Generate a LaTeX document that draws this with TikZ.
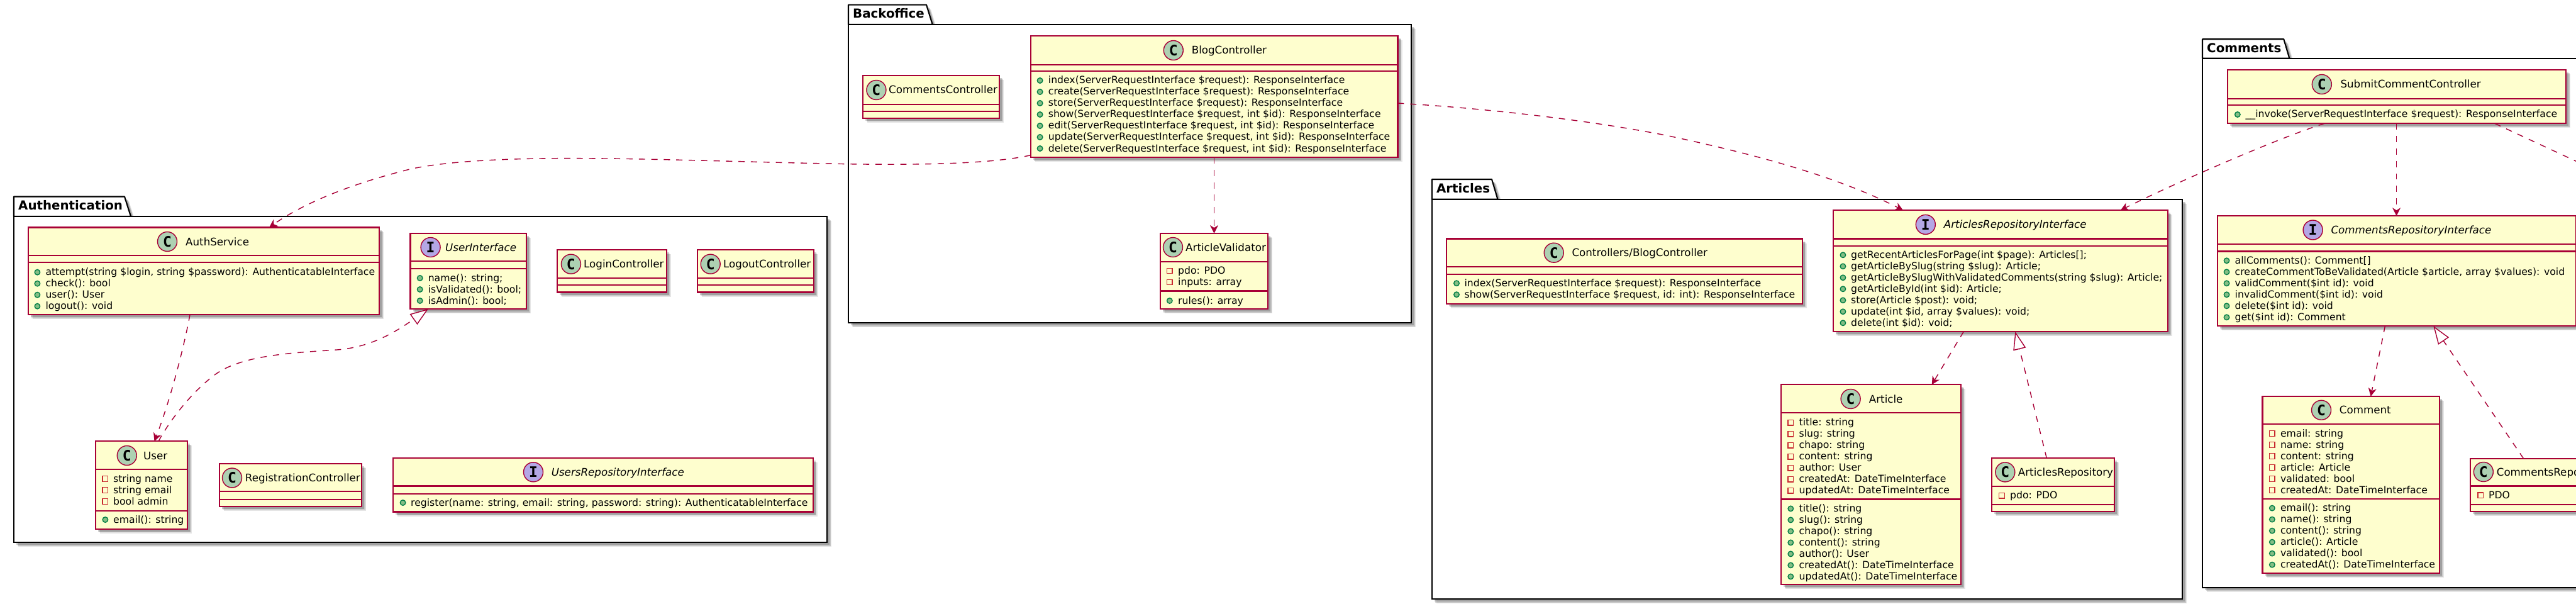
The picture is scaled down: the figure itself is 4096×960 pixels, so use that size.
\documentclass[tikz,border=0pt]{standalone}
\usepackage{fontspec}
\setmainfont{DejaVu Sans}
\newfontfamily\badgefont{DejaVu Sans Mono}
\usetikzlibrary{positioning,arrows.meta,shadows,calc}

\definecolor{umlred}{HTML}{A80036}
\definecolor{umlfill}{HTML}{FEFECE}
\definecolor{umlclass}{HTML}{ADD1B2}
\definecolor{umliface}{HTML}{B4A7E5}
\definecolor{pubfill}{HTML}{84BE84}
\definecolor{publine}{HTML}{038048}
\definecolor{privline}{HTML}{C82930}

\tikzset{
    umlshadow/.style={
        drop shadow={shadow xshift=7pt,shadow yshift=-7pt,opacity=.10,fill=black},
        drop shadow={shadow xshift=5.5pt,shadow yshift=-5.5pt,opacity=.14,fill=black},
        drop shadow={shadow xshift=4pt,shadow yshift=-4pt,opacity=.18,fill=black}},
    classbox/.style={rectangle,draw=umlred,fill=umlfill,line width=2.1pt,inner sep=0pt,outer sep=0pt,anchor=north west,umlshadow},
    classrule/.style={draw=umlred,line width=2.1pt},
    pkgbody/.style={rectangle,draw=black,fill=white,line width=2.1pt,inner sep=0pt,outer sep=0pt,anchor=north west,umlshadow},
    pkgtab/.style={draw=black,fill=white,line width=2.1pt,line join=round,umlshadow},
    pkglabel/.style={font=\fontsize{19.8}{24}\selectfont\bfseries,anchor=base west,inner sep=0pt},
    badge/.style={circle,draw=umlred,line width=1.41pt,minimum size=31pt,inner sep=0pt,
        font=\fontsize{23}{23}\selectfont\badgefont\bfseries},
    badgeC/.style={badge,fill=umlclass},
    badgeI/.style={badge,fill=umliface},
    titleC/.style={font=\fontsize{16.7}{20}\selectfont,anchor=base west,inner sep=0pt},
    titleI/.style={font=\fontsize{16.7}{20}\selectfont\itshape,anchor=base west,inner sep=0pt},
    rowtext/.style={font=\fontsize{15.65}{18}\selectfont,anchor=base west,inner sep=0pt},
    markpub/.style={circle,draw=publine,fill=pubfill,line width=1.41pt,minimum size=8.5pt,inner sep=0pt},
    markpriv/.style={rectangle,draw=privline,line width=1.41pt,minimum size=8.5pt,inner sep=0pt},
    dep/.style={draw=umlred,line width=1.41pt,dash pattern=on 9.9pt off 9.9pt,
        -{Stealth[length=13pt,width=13pt,inset=4pt,fill=umlred]}},
    impl/.style={draw=umlred,line width=1.41pt,dash pattern=on 9.9pt off 9.9pt,
        -{Triangle[open,length=28.8pt,width=20.3pt,fill=white]}}
}

% id, x, y, width, height, first rule, second rule
\newcommand{\umlbox}[7]{
    \node[classbox,minimum width=#4,minimum height=#5] (#1) at (#2,#3) {};
    \draw[classrule] (#1.west |- 0,#6) -- (#1.east |- 0,#6);
    \draw[classrule] (#1.west |- 0,#7) -- (#1.east |- 0,#7);
}
% id, kind, badge x, badge y, title x, title
\newcommand{\umlhead}[6]{
    \node[badge#2] (#1-badge) at (#3,#4) {#2};
    \node[title#2] (#1-title) at ($(#5,#4)+(0,6)$) {#6};
}
% id, pub or priv, mark x, text x, first row y, rows
\newcommand{\umlrows}[6]{
    \foreach \row [count=\i from 0] in {#6} {
        \pgfmathsetmacro{\rowy}{#5+18*\i}
        \node[mark#2] (#1-#2-mark\i) at (#3,\rowy) {};
        \node[rowtext] (#1-#2-\i) at (#4,\rowy+5) {\row};
    }
}
% id, left, tab top, tab top right, tab foot right, body top, width, height, label
\newcommand{\umlpackage}[9]{
    \draw[pkgtab] (#2,#6) -- (#2,#3) -- (#4,#3) -- (#5,#6) -- cycle;
    \node[pkgbody,minimum width=#7,minimum height=#8] (#1) at (#2,#6) {};
    \node[pkglabel] (#1-label) at (#2+7,#3+21) {#9};
}

\begin{document}
\begin{tikzpicture}[x=1pt,y=-1pt]

    \path[use as bounding box,clip] (0,0) rectangle (4096,960);

    \umlpackage{authentication}{22}{312.5}{198}{208}{344}{1293}{518}{Authentication}
    \umlpackage{backoffice}{1349}{7.6}{1473}{1482.7}{39}{895}{474.4}{Backoffice}
    \umlpackage{articles}{2276.8}{285}{2372}{2381.4}{316.6}{1193.2}{635.4}{Articles}
    \umlpackage{comments}{3502}{62.3}{3631.3}{3640.3}{92.7}{800}{841}{Comments}

    % Authentication
    \umlbox{authservice}{44.6}{361.5}{558.4}{138.5}{406}{417}
    \umlhead{authservice}{C}{266}{384}{295}{AuthService}
    \umlrows{authservice}{pub}{59.4}{72.3}{432.7}{{attempt(string \$login, string \$password): AuthenticatableInterface},{check(): bool},{user(): User},{logout(): void}}

    \umlbox{user}{151.8}{701.3}{146.2}{139.4}{746}{811.6}
    \umlhead{user}{C}{201.8}{724}{228}{User}
    \umlrows{user}{priv}{167.4}{180}{761}{string name,string email,bool admin}
    \umlrows{user}{pub}{167.4}{180}{826}{{email(): string}}

    \umlbox{registration}{348.7}{737.3}{226.7}{67.4}{781.3}{793.6}
    \umlhead{registration}{C}{369}{759.5}{389.7}{RegistrationController}

    \umlbox{usersrepo}{625.4}{728}{667.3}{85.5}{772.5}{784.8}
    \umlhead{usersrepo}{I}{848}{750.3}{876.6}{UsersRepositoryInterface}
    \umlrows{usersrepo}{pub}{640.6}{653}{799}{{register(name: string, email: string, password: string): AuthenticatableInterface}}

    \umlbox{userinterface}{652.5}{371}{184.8}{120}{415}{427.3}
    \umlhead{userinterface}{I}{684.6}{393}{708}{UserInterface}
    \umlrows{userinterface}{pub}{667.7}{680.6}{442}{{name(): string;},{isValidated(): bool;},{isAdmin(): bool;}}

    \umlbox{login}{886.4}{397}{173.2}{67.5}{442.3}{453.4}
    \umlhead{login}{C}{907.9}{419.7}{928}{LoginController}

    \umlbox{logout}{1108.8}{397}{184.8}{67.5}{442.3}{453.4}
    \umlhead{logout}{C}{1129.7}{419.7}{1149.8}{LogoutController}

    % Backoffice
    \umlbox{blogcontroller}{1638.6}{57}{583.9}{193}{102.6}{113.3}
    \umlhead{blogcontroller}{C}{1865.8}{80}{1894.6}{BlogController}
    \umlrows{blogcontroller}{pub}{1653.6}{1666.7}{128}{{index(ServerRequestInterface \$request): ResponseInterface},{create(ServerRequestInterface \$request): ResponseInterface},{store(ServerRequestInterface \$request): ResponseInterface},{show(ServerRequestInterface \$request, int \$id): ResponseInterface},{edit(ServerRequestInterface \$request, int \$id): ResponseInterface},{update(ServerRequestInterface \$request, int \$id): ResponseInterface},{delete(ServerRequestInterface \$request, int \$id): ResponseInterface}}

    \umlbox{commentscontroller}{1372.4}{120}{217}{67.7}{165.6}{176.7}
    \umlhead{commentscontroller}{C}{1393.4}{143}{1413}{CommentsController}

    \umlbox{validator}{1844.8}{371}{171.2}{120.4}{415.6}{462.5}
    \umlhead{validator}{C}{1865}{393}{1885}{ArticleValidator}
    \umlrows{validator}{priv}{1859.8}{1873}{430.5}{{pdo: PDO},{inputs: array}}
    \umlrows{validator}{pub}{1859.8}{1873}{478}{{rules(): array}}

    % Articles
    \umlbox{frontblog}{2300.3}{379.5}{565.3}{103.3}{424.4}{435.7}
    \umlhead{frontblog}{C}{2470.7}{401.7}{2499.3}{Controllers/BlogController}
    \umlrows{frontblog}{pub}{2316}{2328.4}{450.2}{{index(ServerRequestInterface \$request): ResponseInterface},{show(ServerRequestInterface \$request, id: int): ResponseInterface}}

    \umlbox{articlesiface}{2914.6}{334.2}{532.1}{192.8}{379.5}{390.9}
    \umlhead{articlesiface}{I}{3061.8}{356.9}{3090.7}{ArticlesRepositoryInterface}
    \umlrows{articlesiface}{pub}{2930.4}{2943}{405.3}{{getRecentArticlesForPage(int \$page): Articles[];},{getArticleBySlug(string \$slug): Article;},{getArticleBySlugWithValidatedComments(string \$slug): Article;},{getArticleById(int \$id): Article;},{store(Article \$post): void;},{update(int \$id, array \$values): void;},{delete(int \$id): void;}}

    \umlbox{article}{2832.4}{611.4}{285.3}{317.9}{656.3}{793.5}
    \umlhead{article}{C}{2942.6}{634}{2971.7}{Article}
    \umlrows{article}{priv}{2847.3}{2860.5}{671.6}{{title: string},{slug: string},{chapo: string},{content: string},{author: User},{createdAt: DateTimeInterface},{updatedAt: DateTimeInterface}}
    \umlrows{article}{pub}{2847.3}{2860.5}{808.4}{{title(): string},{slug(): string},{chapo(): string},{content(): string},{author(): User},{createdAt(): DateTimeInterface},{updatedAt(): DateTimeInterface}}

    \umlbox{articlesrepo}{3167.3}{728.3}{195}{85.1}{772.6}{801.6}
    \umlhead{articlesrepo}{C}{3188.3}{750.4}{3208.7}{ArticlesRepository}
    \umlrows{articlesrepo}{priv}{3183}{3196}{787.6}{{pdo: PDO}}

    % Comments
    \umlbox{submit}{3542}{111}{538}{85.3}{156.7}{167.3}
    \umlhead{submit}{C}{3691.8}{134}{3721.3}{SubmitCommentController}
    \umlrows{submit}{pub}{3557.8}{3570.4}{182}{{\_\_invoke(ServerRequestInterface \$request): ResponseInterface}}

    \umlbox{commentsiface}{3525.6}{343.2}{570}{175}{388}{399.5}
    \umlhead{commentsiface}{I}{3677.6}{365.5}{3706.3}{CommentsRepositoryInterface}
    \umlrows{commentsiface}{pub}{3540.5}{3553.5}{414.3}{{allComments(): Comment[]},{createCommentToBeValidated(Article \$article, array \$values): void},{validComment(\$int id): void},{invalidComment(\$int id): void},{delete(\$int id): void},{get(\$int id): Comment}}

    \umlbox{comment}{3597.5}{630}{281.2}{281.3}{674.3}{792.8}
    \umlhead{comment}{C}{3691}{651.8}{3719.7}{Comment}
    \umlrows{comment}{priv}{3612.8}{3625.8}{689}{{email: string},{name: string},{content: string},{article: Article},{validated: bool},{createdAt: DateTimeInterface}}
    \umlrows{comment}{pub}{3612.8}{3625.8}{807.6}{{email(): string},{name(): string},{content(): string},{article(): Article},{validated(): bool},{createdAt(): DateTimeInterface}}

    \umlbox{commentsrepo}{3928.3}{728.6}{240}{84.6}{772.5}{801.6}
    \umlhead{commentsrepo}{C}{3948.8}{750}{3969.6}{CommentsRepository}
    \umlrows{commentsrepo}{priv}{3944}{3957}{787.3}{PDO}

    \coordinate (offpage) at (4130,272);

    % links
    \draw[dep] (blogcontroller.west |- 0,246.7) .. controls (1570,262) and (1440,262) .. (1348,260.7)
        .. controls (1200,258) and (1040,252) .. (922,251.7)
        .. controls (790,251) and (690,258) .. (641,271.7)
        .. controls (570,290) and (490,318) .. (428,0 |- authservice.north);
    \draw[dep] (1930.5,0 |- blogcontroller.south) -- (1930.5,0 |- validator.north);
    \draw[dep] (blogcontroller.east |- 0,164) .. controls (2360,172) and (2520,190) .. (2648.5,215)
        .. controls (2790,245) and (2920,280) .. (3026,0 |- articlesiface.north);
    \draw[dep] (3696,0 |- submit.south) .. controls (3620,220) and (3450,295) .. (3371.7,0 |- articlesiface.north);
    \draw[dep] (3810.5,0 |- submit.south) -- (3810.5,0 |- commentsiface.north);
    \draw[dep] (3967,0 |- submit.south) -- (offpage);
    \draw[dep] (3792.4,0 |- commentsiface.south) -- (3769.6,0 |- comment.north);
    \draw[impl] (4012.4,0 |- commentsrepo.north) -- (3869.3,0 |- commentsiface.south);
    \draw[dep] (302,0 |- authservice.south) .. controls (297,530) and (275,625) .. (245.5,0 |- user.north);
    \draw[impl] (252,0 |- user.north) .. controls (268,672) and (300,628) .. (339,597.6)
        .. controls (380,565) and (460,561) .. (536,556)
        .. controls (590,552) and (630,527) .. (681,0 |- userinterface.south);
    \draw[dep] (3122.3,0 |- articlesiface.south) -- (3071.7,0 |- article.north);
    \draw[impl] (3254.3,0 |- articlesrepo.north) -- (3204.3,0 |- articlesiface.south);

\end{tikzpicture}
\end{document}
